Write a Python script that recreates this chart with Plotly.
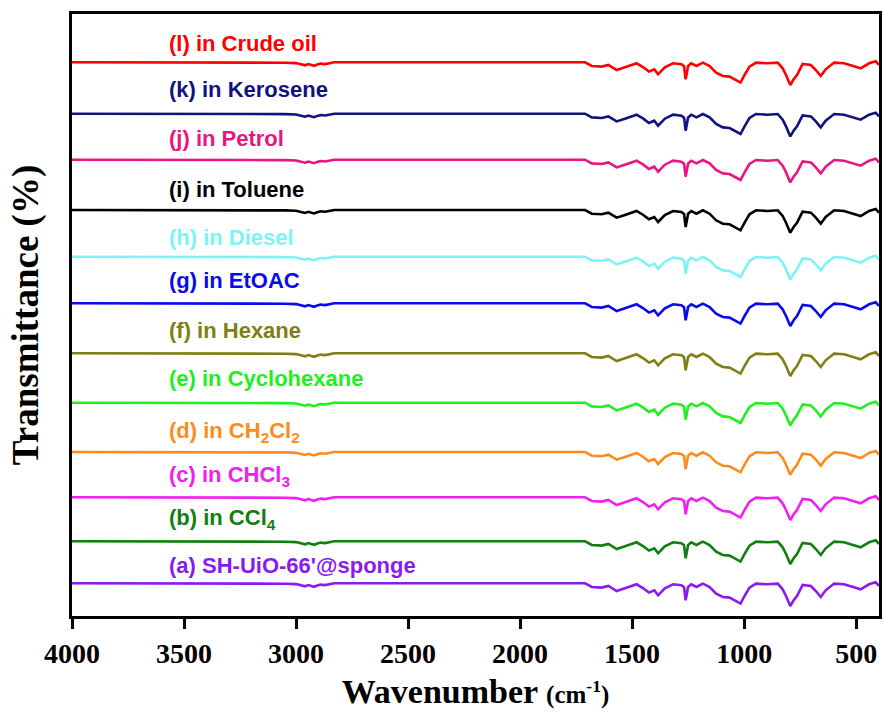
import plotly.graph_objects as go

# Wavenumber grid (cm-1) and common spectrum shape (deviation from baseline)
wavenumber = [4000, 3600, 3200, 3050, 3000, 2975, 2960, 2945, 2935, 2920, 2905, 2890, 2870, 2850, 2830,
              2700, 2400, 2000, 1828, 1710, 1680, 1636, 1606, 1569, 1532, 1480, 1450, 1425, 1401, 1384,
              1354, 1317, 1280, 1268, 1261, 1250, 1236, 1213, 1184, 1154, 1125, 1095, 1065, 1036,
              1016, 998, 976, 947, 895, 850, 828, 813, 794, 779, 764, 739, 702, 680, 658, 636, 598,
              554, 517, 480, 442, 413, 398]
shape = [0.0, 0.0, -0.2, -0.4, -0.8, -2.0, -3.0, -1.8, -2.2, -3.5, -2.2, -1.3, -1.8, -0.6, 0.0,
         0.0, 0.0, 0.0, 0.0, 0.0, -3.7, -4.3, -2.7, -7.7, -5.0, -1.0, -5.0, -9.3, -7.0, -12.0,
         -5.0, -1.0, -2.0, -4.0, -17.0, -3.7, -1.0, -3.7, -0.3, -3.7, -10.3, -13.7, -14.3, -17.7,
         -20.3, -12.7, -4.3, -0.3, -1.0, -0.3, -6.0, -12.7, -22.7, -17.0, -12.7, -1.7, -2.7, -7.7,
         -13.7, -7.0, -0.3, -1.0, -3.7, -6.0, -1.0, 1.0, -2.7]

# Series (top to bottom), vertical offsets and label positions
labels = ["(l) in Crude oil", "(k) in Kerosene", "(j) in Petrol", "(i) in Toluene", "(h) in Diesel",
          "(g) in EtOAC", "(f) in Hexane", "(e) in Cyclohexane", "(d) in CH<sub>2</sub>Cl<sub>2</sub>",
          "(c) in CHCl<sub>3</sub>", "(b) in CCl<sub>4</sub>", "(a) SH-UiO-66'@sponge"]
colors = ["#FF0000", "#12127F", "#EC1480", "#000000", "#7DF4F4", "#0A0AF0",
          "#7F7F14", "#1EF01E", "#FF8C1A", "#F020F0", "#0F7F0F", "#8A1AF0"]
offsets = [553.7, 502.3, 456.3, 406.0, 359.3, 312.7, 262.7, 213.3, 164.0, 118.7, 74.7, 32.7]
label_y = [573.0, 527.0, 478.0, 427.0, 379.0, 336.0, 286.0, 238.0, 184.0, 140.0, 97.0, 51.0]
label_x = 3575

x_ticks = [4000, 3500, 3000, 2500, 2000, 1500, 1000, 500]

fig = go.Figure()
for name, col, off in zip(labels, colors, offsets):
    fig.add_trace(go.Scatter(
        x=wavenumber, y=[off + s for s in shape], mode="lines",
        line=dict(color=col, width=2.6), name=name, showlegend=False))

for name, col, ly in zip(labels, colors, label_y):
    fig.add_annotation(x=label_x, y=ly, text="<b>" + name + "</b>", showarrow=False,
                       xanchor="left", yanchor="middle",
                       font=dict(family="Liberation Sans, Arial", size=22, color=col))

fig.update_layout(
    width=884, height=720,
    margin=dict(l=72, r=2, t=14, b=104),
    paper_bgcolor="white", plot_bgcolor="white",
    xaxis=dict(
        range=[4000, 398], tickvals=x_ticks, ticktext=[str(t) for t in x_ticks],
        showgrid=False, zeroline=False, showline=True, linecolor="black", linewidth=3,
        mirror=True, ticks="outside", ticklen=10, tickwidth=3, tickcolor="black",
        tickfont=dict(family="Liberation Serif, Times New Roman", size=28, color="black", weight="bold"),
        title=dict(text="<b>Wavenumber <span style='font-size:25px'>(cm<sup>-1</sup>)</span></b>",
                   font=dict(family="Liberation Serif, Times New Roman", size=34, color="black"),
                   standoff=12),
    ),
    yaxis=dict(
        range=[0, 602], showticklabels=False, ticks="", showgrid=False, zeroline=False,
        showline=True, linecolor="black", linewidth=3, mirror=True,
        title=dict(text="<b>Transmittance (%)</b>",
                   font=dict(family="Liberation Serif, Times New Roman", size=37, color="black"),
                   standoff=20),
    ),
)

fig.write_html("out.html")
